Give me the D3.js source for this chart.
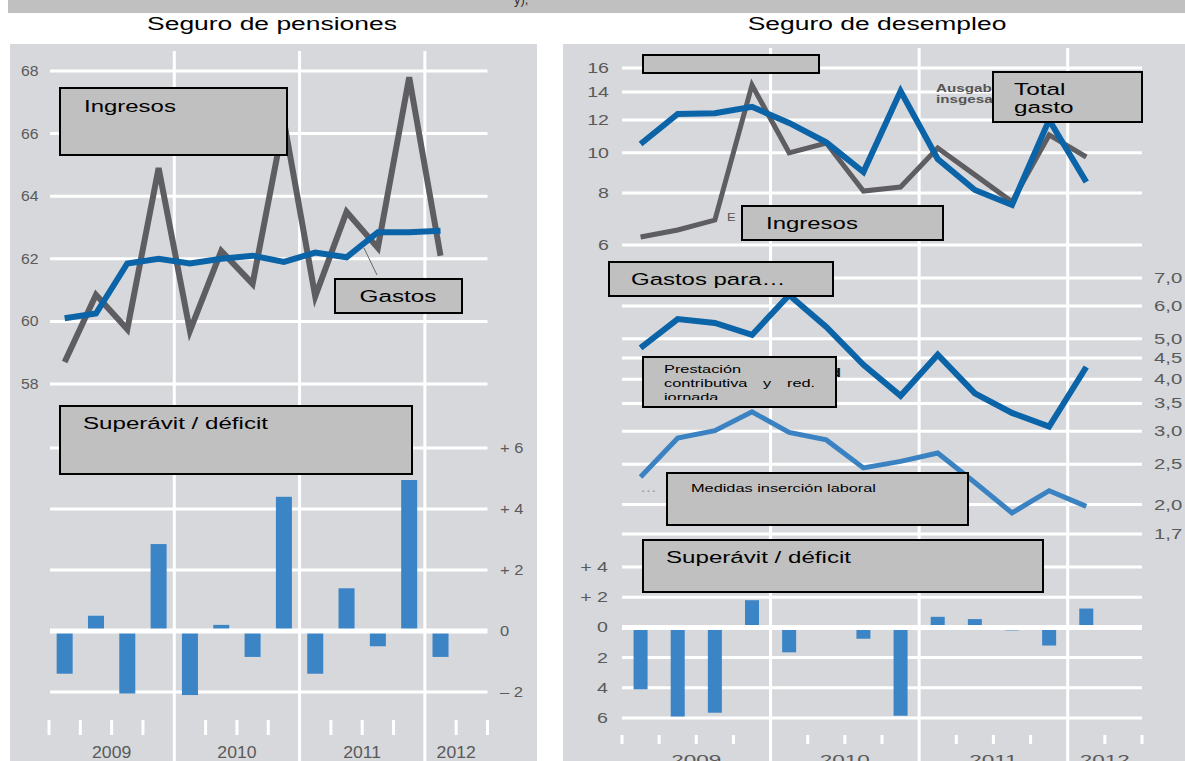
<!DOCTYPE html>
<html>
<head>
<meta charset="utf-8">
<script src="https://d3js.org/d3.v7.min.js"></script>
<style>
  body { margin: 0; background: #fff; }
  text { font-family: "Liberation Sans", Arial, sans-serif; }
</style>
</head>
<body>
<script>
// quarters on the x axis (2009 Q1 .. 2012 Q2)
const quarters = ["I-09","II-09","III-09","IV-09","I-10","II-10","III-10","IV-10",
                  "I-11","II-11","III-11","IV-11","I-12","II-12"];
const years = ["2009","2010","2011","2012"];

// Seguro de pensiones (mil millones)
const pensIngresos = [58.7, 60.85, 59.75, 64.9, 59.7, 62.25, 61.2, 66.4, 60.8, 63.5, 62.35, 67.8, 62.1];
const pensGastos   = [60.1, 60.25, 61.85, 62.0, 61.85, 62.0, 62.1, 61.9, 62.2, 62.05, 62.85, 62.85, 62.9];
const pensSaldo    = [-1.4, 0.5, -2.05, 2.85, -2.1, 0.2, -0.85, 4.4, -1.4, 1.4, -0.5, 4.95, -0.85];
const pensTicks = [58, 60, 62, 64, 66, 68];
const pensSaldoTicks = [-2, 0, 2, 4, 6];
const pensSaldoLabels = ["– 2", "0", "+ 2", "+ 4", "+ 6"];

// Seguro de desempleo
const desIngresos  = [6.27, 6.52, 6.89, 14.56, 10.0, 10.56, 8.09, 8.27, 10.27, 8.85, 7.62, 11.04, 9.77];
const desGasto     = [10.5, 12.4, 12.45, 12.9, 11.8, 10.6, 8.99, 14.08, 9.66, 8.14, 7.49, 12.0, 8.51];
const prestacion   = [4.76, 5.58, 5.46, 5.11, 6.37, 5.34, 4.33, 3.65, 4.58, 3.70, 3.32, 3.08, 4.28];
const medidas      = [2.33, 2.89, 3.01, 3.34, 2.98, 2.86, 2.45, 2.54, 2.66, 2.26, 1.91, 2.16, 1.98];
const desSaldo     = [-4.1, -5.9, -5.65, 1.8, -1.65, 0, -0.75, -5.85, 0.7, 0.55, -0.15, -1.2, 1.25];
const desTicks = [6, 8, 10, 12, 14, 16];
const paraTicks = [1.7, 2, 2.5, 3, 3.5, 4, 4.5, 5, 6, 7];
const paraLabels = ["1,7", "2,0", "2,5", "3,0", "3,5", "4,0", "4,5", "5,0", "6,0", "7,0"];
const desSaldoTicks = [-6, -4, -2, 0, 2, 4];
const desSaldoLabels = ["6", "4", "2", "0", "+ 2", "+ 4"];

const W = 1185, H = 761;
const bg = "#d6d8db", boxFill = "#c0c0c0", grey = "#5e5e62", blue = "#0b63a8",
      lightBlue = "#3b82c2", barBlue = "#3b84c6", tickCol = "#5a5a5a";

const svg = d3.select("body").append("svg").attr("width", W).attr("height", H);

// text helper, the source picture is stretched horizontally
function txt(g, x, y, s, o = {}) {
  return g.append("text")
    .attr("transform", "translate(" + x + "," + y + ") scale(" + (o.sx || 1) + ",1)")
    .attr("text-anchor", o.anchor || "start")
    .attr("font-size", o.size || 15)
    .attr("font-weight", o.weight || "normal")
    .attr("fill", o.color || "#000")
    .text(s);
}
function box(g, x, y, w, h) {
  g.append("rect").attr("x", x).attr("y", y).attr("width", w).attr("height", h)
    .attr("fill", boxFill).attr("stroke", "#000").attr("stroke-width", 2);
}
function hgrid(g, scale, ticks, x0, x1, sw) {
  g.selectAll(null).data(ticks).enter().append("line")
    .attr("x1", x0).attr("x2", x1)
    .attr("y1", d => scale(d)).attr("y2", d => scale(d))
    .attr("stroke", "#fff").attr("stroke-width", sw || 3);
}

// top strip
svg.append("rect").attr("x", 8).attr("y", 0).attr("width", W - 8).attr("height", 13).attr("fill", "#c0c0c0");
txt(svg, 514, 4, "y),", {size: 13, color: "#333"});

txt(svg, 272, 30, "Seguro de pensiones", {size: 18.5, anchor: "middle", sx: 1.43});
txt(svg, 877, 30, "Seguro de desempleo", {size: 18.5, anchor: "middle", sx: 1.43});

// ---------------- left panel ----------------
const L = svg.append("g");
L.append("rect").attr("x", 10).attr("y", 44).attr("width", 527).attr("height", H - 44).attr("fill", bg);

const xL = d3.scaleBand().domain(quarters).range([49, 487.5]);
const bwL = xL.bandwidth();
const cxL = (d, i) => xL(quarters[i]) + bwL / 2;
const yL = d3.scaleLinear().domain([58, 68]).range([384, 71]);
const yLb = d3.scaleLinear().domain([-2, 6]).range([692, 448]);

hgrid(L, yL, pensTicks, 50, 487.5);
hgrid(L, yLb, pensSaldoTicks.filter(d => d !== 0), 50, 487.5);

// year separators
[4, 8, 12].forEach(i => {
  L.append("line").attr("x1", xL(quarters[i])).attr("x2", xL(quarters[i]))
    .attr("y1", 51).attr("y2", H).attr("stroke", "#fff").attr("stroke-width", 3);
});
// quarter ticks
quarters.forEach((q, i) => {
  if (i % 4 === 0 && i > 0) return;
  L.append("line").attr("x1", xL(q)).attr("x2", xL(q)).attr("y1", 720).attr("y2", 735)
    .attr("stroke", "#fff").attr("stroke-width", 3);
});
L.append("line").attr("x1", 487.5).attr("x2", 487.5).attr("y1", 720).attr("y2", 735)
  .attr("stroke", "#fff").attr("stroke-width", 3);

pensTicks.forEach(t => txt(L, 21, yL(t) + 5, String(t), {size: 15, color: tickCol, sx: 1.05}));
pensSaldoTicks.forEach((t, i) => txt(L, 500, yLb(t) + 5, pensSaldoLabels[i], {size: 15, color: tickCol, sx: 1.1}));

years.forEach(yr => {
  const qs = quarters.filter(q => q.endsWith(yr.slice(2)));
  const x0 = xL(qs[0]), x1 = xL(qs[qs.length - 1]) + bwL;
  txt(L, (x0 + x1) / 2, 758, yr, {size: 16, color: tickCol, anchor: "middle", sx: 1.1});
});

const lineL = d3.line().x(cxL);
L.append("path").datum(pensIngresos).attr("fill", "none").attr("stroke", grey).attr("stroke-width", 6)
  .attr("d", lineL.y(d => yL(d)));
L.append("path").datum(pensGastos).attr("fill", "none").attr("stroke", blue).attr("stroke-width", 6)
  .attr("d", lineL.y(d => yL(d)));

const barWL = 16;
L.selectAll(null).data(pensSaldo).enter().append("rect")
  .attr("x", (d, i) => cxL(d, i) - barWL / 2).attr("width", barWL)
  .attr("y", d => yLb(Math.max(0, d))).attr("height", d => Math.abs(yLb(d) - yLb(0)))
  .attr("fill", barBlue);
hgrid(L, yLb, [0], 50, 487.5, 5);

// annotations
box(L, 60, 88, 227, 67);
txt(L, 84, 112, "Ingresos", {size: 17, sx: 1.41});
L.append("line").attr("x1", 364).attr("y1", 248).attr("x2", 377).attr("y2", 275)
  .attr("stroke", "#666").attr("stroke-width", 1);
box(L, 335, 279, 127, 34);
txt(L, 398, 302, "Gastos", {size: 17, anchor: "middle", sx: 1.43});
box(L, 60, 406, 352, 68);
txt(L, 83, 429, "Superávit / déficit", {size: 17, sx: 1.42});

// ---------------- right panel ----------------
const R = svg.append("g");
R.append("rect").attr("x", 563).attr("y", 44).attr("width", W - 563).attr("height", H - 44).attr("fill", bg);

const xR = d3.scaleBand().domain(quarters).range([622, 1142]);
const bwR = xR.bandwidth();
const cxR = (d, i) => xR(quarters[i]) + bwR / 2;
const yR = d3.scaleLog().domain([6, 16]).range([245, 68]);
const yRm = d3.scaleLog().domain([1.7, 7]).range([534, 278]);
const yRb = d3.scaleLinear().domain([-6, 4]).range([718, 567]);

hgrid(R, yR, desTicks, 622, 1142);
hgrid(R, yRm, paraTicks, 622, 1142);
hgrid(R, yRb, desSaldoTicks.filter(d => d !== 0), 622, 1142);

[4, 8, 12].forEach(i => {
  R.append("line").attr("x1", xR(quarters[i])).attr("x2", xR(quarters[i]))
    .attr("y1", 48).attr("y2", H).attr("stroke", "#fff").attr("stroke-width", 3);
});
quarters.forEach((q, i) => {
  if (i % 4 === 0 && i > 0) return;
  R.append("line").attr("x1", xR(q)).attr("x2", xR(q)).attr("y1", 735).attr("y2", 744)
    .attr("stroke", "#fff").attr("stroke-width", 3);
});
R.append("line").attr("x1", 1142).attr("x2", 1142).attr("y1", 735).attr("y2", 744)
  .attr("stroke", "#fff").attr("stroke-width", 3);

desTicks.forEach(t => txt(R, 609, yR(t) + 5, String(t), {size: 14, color: tickCol, anchor: "end", sx: 1.4}));
paraTicks.forEach((t, i) => txt(R, 1154, yRm(t) + 5, paraLabels[i], {size: 14, color: tickCol, sx: 1.45}));
desSaldoTicks.forEach((t, i) => txt(R, 608, yRb(t) + 5, desSaldoLabels[i], {size: 14, color: tickCol, anchor: "end", sx: 1.4}));

years.forEach(yr => {
  const qs = quarters.filter(q => q.endsWith(yr.slice(2)));
  const x0 = xR(qs[0]), x1 = xR(qs[qs.length - 1]) + bwR;
  txt(R, (x0 + x1) / 2, 765, yr, {size: 15, color: tickCol, anchor: "middle", sx: 1.5});
});

// hidden labels behind the boxes
txt(R, 936, 92, "Ausgaben", {size: 10.5, weight: "bold", color: "#555", sx: 1.45});
txt(R, 936, 103, "insgesamt", {size: 10.5, weight: "bold", color: "#555", sx: 1.45});
txt(R, 727, 221, "E", {size: 10, color: "#555", sx: 1.3});
txt(R, 830, 377, "d", {size: 13, weight: "bold", color: "#111", sx: 1.4});
txt(R, 640, 492, "…", {size: 12, color: "#999", sx: 1.4});

const lineR = d3.line().x(cxR);
R.append("path").datum(desIngresos).attr("fill", "none").attr("stroke", grey).attr("stroke-width", 5)
  .attr("d", lineR.y(d => yR(d)));
R.append("path").datum(desGasto).attr("fill", "none").attr("stroke", blue).attr("stroke-width", 6)
  .attr("d", lineR.y(d => yR(d)));
R.append("path").datum(prestacion).attr("fill", "none").attr("stroke", blue).attr("stroke-width", 6)
  .attr("d", lineR.y(d => yRm(d)));
R.append("path").datum(medidas).attr("fill", "none").attr("stroke", lightBlue).attr("stroke-width", 5)
  .attr("d", lineR.y(d => yRm(d)));

const barWR = 14;
R.selectAll(null).data(desSaldo).enter().append("rect")
  .attr("x", (d, i) => cxR(d, i) - barWR / 2).attr("width", barWR)
  .attr("y", d => yRb(Math.max(0, d))).attr("height", d => Math.max(Math.abs(yRb(d) - yRb(0)), d === 0 ? 0 : 3))
  .attr("fill", barBlue);
hgrid(R, yRb, [0], 622, 1142, 5);

// annotations
box(R, 643, 55, 176, 18);
box(R, 993, 72, 149, 50);
txt(R, 1014, 95, "Total", {size: 17, sx: 1.43});
txt(R, 1014, 113, "gasto", {size: 17, sx: 1.43});
box(R, 742, 206, 201, 34);
txt(R, 766, 229, "Ingresos", {size: 17, sx: 1.41});
box(R, 609, 262, 224, 34);
txt(R, 631, 285, "Gastos para…", {size: 17, sx: 1.41});

box(R, 643, 357, 193, 50);
const clip = svg.append("defs").append("clipPath").attr("id", "prestClip");
clip.append("rect").attr("x", 645).attr("y", 359).attr("width", 189).attr("height", 41);
const pg = R.append("g").attr("clip-path", "url(#prestClip)");
txt(pg, 664, 373, "Prestación", {size: 11.5, sx: 1.42});
txt(pg, 664, 387, "contributiva", {size: 11.5, sx: 1.42});
txt(pg, 763, 387, "y", {size: 11.5, sx: 1.42});
txt(pg, 787, 387, "red.", {size: 11.5, sx: 1.42});
txt(pg, 664, 401, "jornada", {size: 11.5, sx: 1.42});

box(R, 667, 473, 301, 52);
txt(R, 691, 492, "Medidas inserción laboral", {size: 11.5, sx: 1.42});

box(R, 643, 540, 400, 52);
txt(R, 666, 563, "Superávit / déficit", {size: 17, sx: 1.42});
</script>
</body>
</html>
